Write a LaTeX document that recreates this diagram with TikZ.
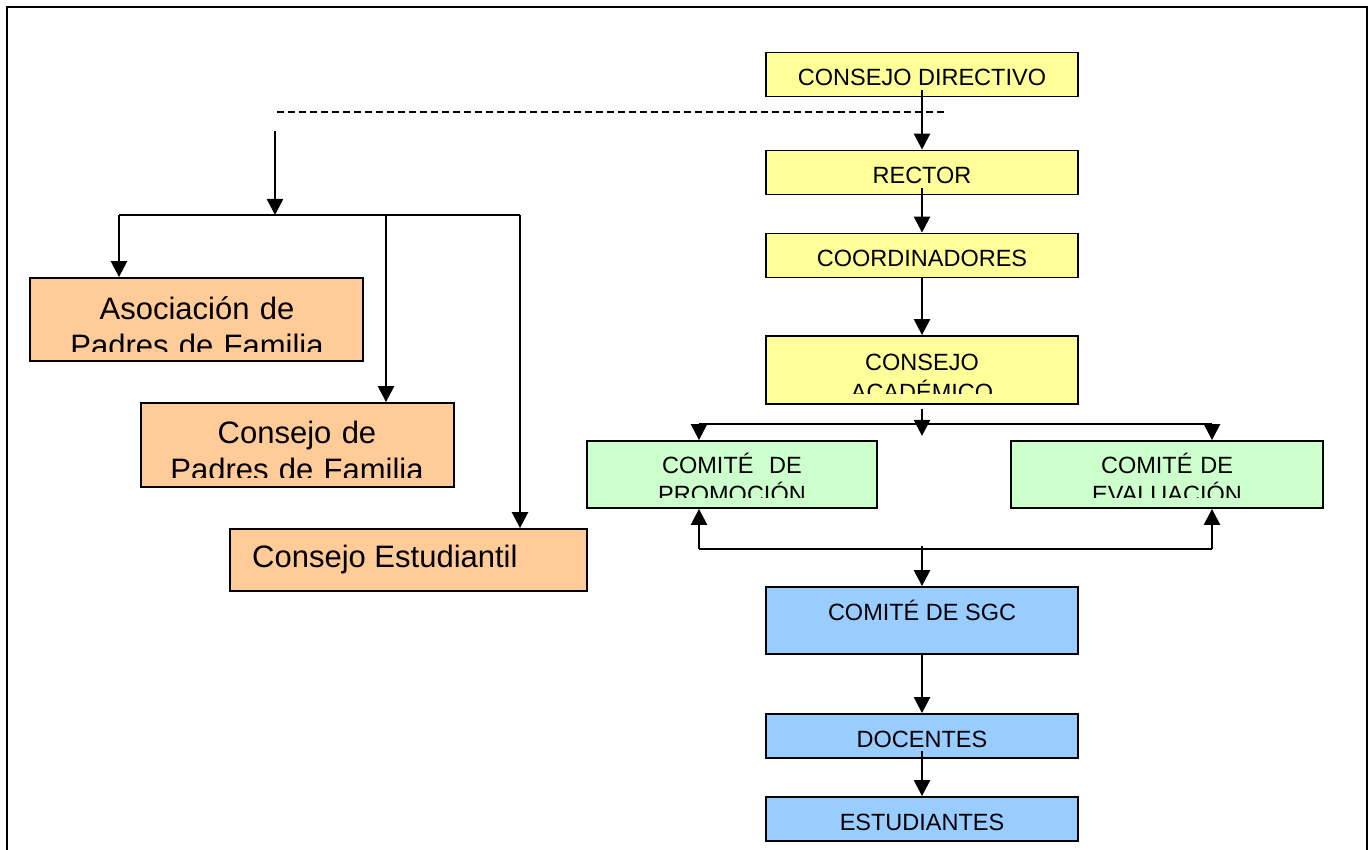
\documentclass[tikz,border=0pt]{standalone}
\usepackage{fontspec}
\setmainfont{Liberation Sans}
\usepackage{tikz}
\usetikzlibrary{
    positioning,
    arrows.meta,
    calc
}
\definecolor{boxYellow}{RGB}{255, 255, 153}
\definecolor{boxOrange}{RGB}{255, 204, 153}
\definecolor{boxGreen}{RGB}{204, 255, 204}
\definecolor{boxBlue}{RGB}{153, 204, 255}

\begin{document}
\begin{tikzpicture}[x=1pt, y=-1pt,
        box/.style={draw, line width=1.8pt, inner sep=0pt},
        rtxt/.style={font=\fontsize{23.5}{30}\selectfont},
        ltxt/.style={font=\fontsize{31}{37}\selectfont},
        ybox/.style={box, rtxt, fill=boxYellow, minimum width=312pt, text height=33pt, text depth=11pt},
        gbox/.style={box, fill=boxGreen, minimum height=67pt},
        bbox/.style={box, rtxt, fill=boxBlue, minimum width=312pt, text height=33pt, text depth=11pt},
        obox/.style={box, fill=boxOrange},
        link/.style={line width=2.5pt},
        arr/.style={link, -{Triangle[width=16pt, length=16pt]}}]
        \useasboundingbox (0,0) rectangle (1370,850);

        % Frame
        \draw[line width=2.5pt] (7,7) rectangle (1367,870);

        % Right column
        \node[ybox] (cd) at (922,74.5) {CONSEJO DIRECTIVO};
        \node[ybox] (rec) at (922,172.5) {RECTOR};
        \node[ybox] (coo) at (922,255.5) {COORDINADORES};
        \node[ybox, minimum height=68pt] (ca) at (922,370) {};
        \node[gbox, minimum width=290pt] (cp) at (732,474.5) {};
        \node[gbox, minimum width=312pt] (cev) at (1167,474.5) {};
        \node[bbox, text depth=34pt] (sgc) at (922,620.5) {COMITÉ DE SGC};
        \node[bbox] (doc) at (922,736) {DOCENTES};
        \node[bbox] (est) at (922,819) {ESTUDIANTES};

        % Left column
        \node[obox, minimum width=333pt, minimum height=83pt] (apf) at (196.5,319.5) {};
        \node[obox, minimum width=313pt, minimum height=84pt] (cpf) at (297.5,445) {};
        \node[obox, minimum width=357pt, minimum height=62pt] (ce) at (408.5,560) {};
        \node[ltxt, inner sep=0pt, anchor=base west] (ce-t) at (252,567) {Consejo Estudiantil};

        % Texts cut at the box bottom
        \begin{scope}
            \clip ([yshift=11pt]ca.south west) rectangle (ca.north east);
            \node[rtxt, inner sep=0pt, text width=300pt, align=center, anchor=base] (ca-t) at (922,370) {CONSEJO\\ACADÉMICO};
        \end{scope}
        \begin{scope}
            \clip ([yshift=11pt]cp.south west) rectangle (cp.north east);
            \node[rtxt, inner sep=0pt, text width=280pt, align=center, anchor=base, font=\fontsize{23.5}{29}\selectfont] (cp-t) at (732,473) {COMITÉ\ \ DE\\PROMOCIÓN};
        \end{scope}
        \begin{scope}
            \clip ([yshift=11pt]cev.south west) rectangle (cev.north east);
            \node[rtxt, inner sep=0pt, text width=300pt, align=center, anchor=base, font=\fontsize{23.5}{29}\selectfont] (cev-t) at (1167,473) {COMITÉ DE\\EVALUACIÓN};
        \end{scope}
        \begin{scope}
            \clip ([yshift=10pt]apf.south west) rectangle (apf.north east);
            \node[ltxt, inner sep=0pt, text width=320pt, align=center, anchor=base] (apf-t) at (197,319) {Asociación de\\Padres de Familia};
        \end{scope}
        \begin{scope}
            \clip ([yshift=10pt]cpf.south west) rectangle (cpf.north east);
            \node[ltxt, inner sep=0pt, text width=300pt, align=center, anchor=base] (cpf-t) at (297,443) {Consejo de\\Padres de Familia};
        \end{scope}

        % Dashed line
        \coordinate (DL) at (277,112);
        \coordinate (DR) at (945,112);
        \draw[dash pattern=on 7pt off 4pt, line width=1.6pt] (DL) -- (DR);

        % Main chain
        \draw[arr] ([yshift=7pt]cd.south) -- (rec.north);
        \draw[arr] ([yshift=7pt]rec.south) -- (coo.north);
        \draw[arr] (coo.south) -- (ca.north);

        % Split to the committees
        \coordinate (UL) at (699,424);
        \coordinate (UR) at (1212,424);
        \draw[link] (UL) -- (UR);
        \draw[arr] ([yshift=-4pt]ca.south) -- ++(0,27);
        \draw[arr] (UL) -- (UL |- cp.north);
        \draw[arr] (UR) -- (UR |- cev.north);

        % Back from SGC
        \coordinate (BL) at (699,549);
        \coordinate (BR) at (1212,549);
        \coordinate (BM) at (922,546);
        \draw[link] (BL) -- (BR);
        \draw[arr] (BL) -- (BL |- cp.south);
        \draw[arr] (BR) -- (BR |- cev.south);
        \draw[arr] (BM) -- (sgc.north);
        \draw[arr] (sgc.south) -- (doc.north);
        \draw[arr] ([yshift=8pt]doc.south) -- (est.north);

        % Left tree
        \coordinate (LT) at (275,131);
        \coordinate (LJ) at (275,215);
        \coordinate (HL) at (119,215);
        \coordinate (HM) at (386,215);
        \coordinate (HR) at (520,215);
        \draw[arr] (LT) -- (LJ);
        \draw[link] (HL) -- (HR);
        \draw[arr] (HL) -- (HL |- apf.north);
        \draw[arr] (HM) -- (HM |- cpf.north);
        \draw[arr] (HR) -- (HR |- ce.north);
    \end{tikzpicture}
\end{document}
